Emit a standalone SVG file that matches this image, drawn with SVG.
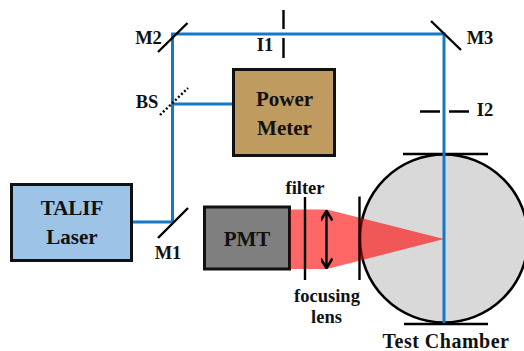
<svg xmlns="http://www.w3.org/2000/svg" width="524" height="351" viewBox="0 0 524 351">
<style>
text{font-family:"Liberation Serif",serif;font-weight:700;fill:#111;text-anchor:middle}
.lb{font-size:18.500px}
.big{font-size:21px}
.box{stroke:#111;stroke-width:3}
.k{stroke:#000;stroke-width:2.400;fill:none}
.beam{stroke:#1478c8;stroke-width:3;fill:none}
</style>
<defs>
<marker id="ah" viewBox="0 0 10 10" refX="9" refY="5" markerWidth="5" markerHeight="5" orient="auto-start-reverse"><path d="M1 0L9 5L1 10" fill="none" stroke="#000" stroke-width="2.200"/></marker>
</defs>
<g id="test-chamber">
<circle cx="444" cy="238.500" r="84" fill="#d9d9d9" stroke="#000" stroke-width="2.600"/>
<path class="k" d="M403 154H488M404 324H488"/>
<text x="446" y="348" style="font-size:20px;letter-spacing:.5px">Test Chamber</text>
</g>
<g id="connectors">
<path class="beam" d="M132 222H172.500V34H444V323M172.500 104H233"/>
</g>
<g id="talif-laser">
<rect class="box" x="11.500" y="184.500" width="120" height="76" fill="#9dc3e6"/>
<text class="big" x="72" y="215">TALIF</text>
<text class="big" x="72" y="244">Laser</text>
</g>
<g id="power-meter">
<rect class="box" x="233.500" y="69.500" width="101" height="86" fill="#bf9b5f"/>
<text class="big" x="284.500" y="106">Power</text>
<text class="big" x="284.500" y="135">Meter</text>
</g>
<g id="pmt">
<rect class="box" x="204.500" y="207" width="85" height="62" fill="#7f7f7f"/>
<text class="big" x="247" y="246">PMT</text>
</g>
<g id="optics">
<path d="M290.500 209.500H327L444 239L327 269H290.500Z" fill="#ff0000" fill-opacity=".6"/>
<path class="k" d="M305 197V280M359.500 196.500V280"/>
<path class="k" d="M326.500 211V268" marker-start="url(#ah)" marker-end="url(#ah)"/>
<text class="lb" x="305" y="194">filter</text>
<text class="lb" x="327" y="302">focusing</text>
<text class="lb" x="326.500" y="323">lens</text>
</g>
<g id="m1"><path class="k" d="M158 238L188 208"/><text class="lb" x="168" y="259">M1</text></g>
<g id="m2"><path class="k" d="M158 52L187.500 23"/><text class="lb" x="148.500" y="44">M2</text></g>
<g id="m3"><path class="k" d="M431 21L461 50"/><text class="lb" x="480" y="44">M3</text></g>
<g id="bs"><path d="M160 115L188 88" stroke="#000" stroke-width="2.400" stroke-dasharray="2 2.200" fill="none"/><text class="lb" x="147" y="108">BS</text></g>
<g id="i1"><path class="k" d="M283.500 10V29M283.500 38V58"/><text class="lb" x="265" y="51">I1</text></g>
<g id="i2"><path class="k" d="M420 111.500H440M449 111.500H469"/><text class="lb" x="485" y="116">I2</text></g>
</svg>
